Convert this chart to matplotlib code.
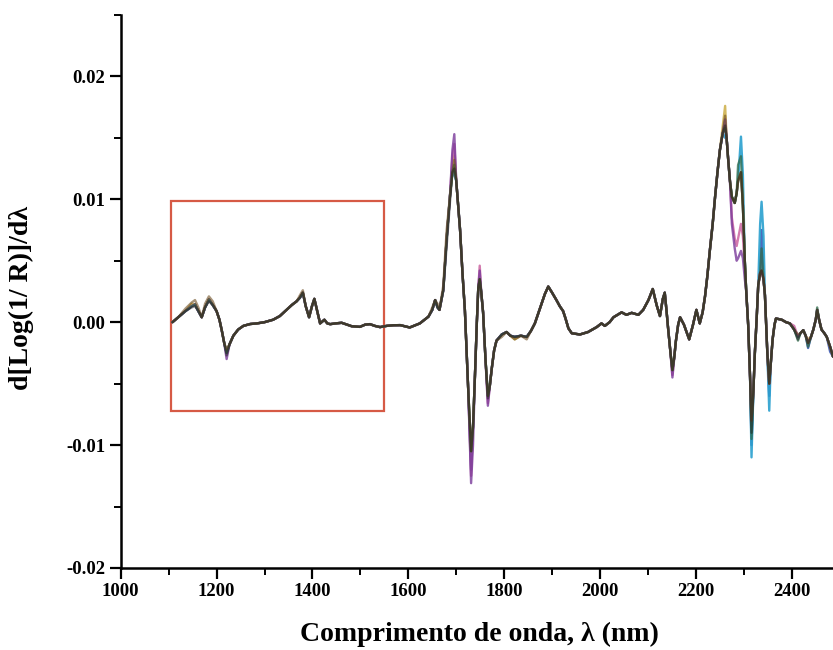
import matplotlib
matplotlib.use("Agg")
import matplotlib.pyplot as plt
from matplotlib.patches import Rectangle
from matplotlib.ticker import MultipleLocator, FixedLocator, FixedFormatter

# ---- data ----
wavelength = [
    1108, 1120, 1135, 1148, 1155, 1162, 1169, 1176, 1184, 1192, 1200, 1206, 1211, 1216, 1221, 1227,
    1235, 1245, 1256, 1270, 1284, 1300, 1318, 1332, 1346, 1357, 1367, 1374, 1380, 1386, 1393, 1399,
    1404, 1410, 1416, 1425, 1431, 1437, 1448, 1461, 1472, 1482, 1499, 1510, 1520, 1530, 1541, 1555,
    1569, 1583, 1603, 1624, 1642, 1650, 1656, 1661, 1665, 1673, 1680, 1687, 1692, 1696, 1700, 1708,
    1713, 1718, 1725, 1731, 1735, 1739, 1743, 1746, 1749, 1752, 1756, 1761, 1766, 1770, 1774, 1779,
    1784, 1795, 1805, 1813, 1822, 1835, 1847, 1856, 1864, 1871, 1878, 1885, 1892, 1900, 1909, 1916,
    1923, 1928, 1934, 1941, 1958, 1975, 1993, 2003, 2010, 2020, 2028, 2045, 2055, 2066, 2080, 2090,
    2101, 2110, 2118, 2125, 2131, 2135, 2139, 2142, 2147, 2151, 2155, 2158, 2163, 2167, 2175, 2186,
    2194, 2201, 2208, 2214, 2219, 2224, 2229, 2235, 2240, 2245, 2250, 2256, 2261, 2264, 2267, 2271,
    2275, 2281, 2285, 2288, 2294, 2298, 2302, 2305, 2309, 2313, 2316, 2320, 2323, 2327, 2330, 2334,
    2337, 2341, 2344, 2349, 2353, 2356, 2360, 2364, 2367, 2379, 2388, 2396, 2405, 2413, 2418, 2424,
    2429, 2434, 2440, 2445, 2450, 2453, 2457, 2462, 2468, 2473, 2480, 2486,
]

base = [
    0.0, 0.0004, 0.0009, 0.0013, 0.00145, 0.0009, 0.0004, 0.0012, 0.00185, 0.0014, 0.0009, 0.0002, -0.0007, -0.0017, -0.0025, -0.0018,
    -0.0011, -0.0006, -0.0003, -0.00015, -0.0001, 0.0, 0.0002, 0.0005, 0.001, 0.0014, 0.0017, 0.0020, 0.0024, 0.0013, 0.0004, 0.0013,
    0.0019, 0.0009, -0.0001, 0.0002, -0.0001, -0.00016, -0.0001, -0.00005, -0.0002, -0.00033, -0.00038, -0.0002, -0.00016, -0.0003, -0.0004, -0.0003,
    -0.00025, -0.00024, -0.00043, -0.0001, 0.00045, 0.0010, 0.0018, 0.0012, 0.0010, 0.0026, 0.0068, 0.0103, 0.0122, 0.0128, 0.0115, 0.0075,
    0.0040, 0.0010, -0.0055, -0.0105, -0.0085, -0.0044, 0.0000, 0.0028, 0.0035, 0.0025, 0.0008, -0.0030, -0.0060, -0.0052, -0.0038, -0.0023,
    -0.0015, -0.0010, -0.0008, -0.0011, -0.0012, -0.0011, -0.0012, -0.0007, -0.0001, 0.0007, 0.0015, 0.0023, 0.0029, 0.0024, 0.0018, 0.0013,
    0.0009, 0.0003, -0.0005, -0.0009, -0.0010, -0.0008, -0.0004, -0.0001, -0.0003, 0.0000, 0.0004, 0.0008, 0.0006, 0.00076, 0.0006, 0.0010,
    0.0018, 0.0027, 0.0014, 0.0005, 0.0019, 0.0024, 0.0008, -0.0005, -0.0025, -0.0039, -0.0028, -0.0016, -0.0002, 0.0004, -0.0002, -0.0014,
    -0.0002, 0.0010, -0.0001, 0.0008, 0.0021, 0.0038, 0.0058, 0.0080, 0.0102, 0.0122, 0.0140, 0.0154, 0.0158, 0.0150, 0.0134, 0.0115,
    0.0102, 0.0097, 0.0105, 0.0115, 0.0122, 0.0095, 0.0050, 0.0025, -0.0002, -0.0045, -0.0080, -0.0055, -0.0025, 0.0005, 0.0030, 0.0040,
    0.0042, 0.0035, 0.0022, -0.0025, -0.0050, -0.0035, -0.0014, -0.0002, 0.0003, 0.0002, 0.0000, -0.0001, -0.0006, -0.0012, -0.0009, -0.00065,
    -0.0011, -0.0017, -0.0012, -0.0006, 0.0002, 0.0010, 0.0002, -0.0006, -0.0009, -0.0012, -0.0020, -0.0028,
]

# values where individual spectra depart from the common trace (wavelength: value)
series_names = ["blue", "cyan", "yellow", "pink", "purple", "green", "olive", "black"]
series_colors = ["#3050b0", "#2aa0cf", "#c8a83a", "#c85a9a", "#7a3a9a", "#2f6a4a", "#6e4e22", "#1e1e1e"]
series_alpha = [0.85, 0.9, 0.8, 0.8, 0.8, 0.75, 0.6, 0.5]
series_departures = [
    {1731: -0.0120, 2316: -0.0100, 2337: 0.0075, 2353: -0.0060, 2434: -0.0021, 2480: -0.0024},
    {1696: 0.0120, 1731: -0.0110, 2261: 0.0150, 2294: 0.0151, 2298: 0.0120, 2316: -0.0110,
     2334: 0.0080, 2337: 0.0098, 2341: 0.0070, 2353: -0.0072},
    {1148: 0.0015, 1696: 0.0135, 1749: 0.0030, 2256: 0.0160, 2261: 0.0176, 2434: -0.0014, 1822: -0.0014},
    {1692: 0.0135, 1696: 0.0145, 1731: -0.0125, 1749: 0.0046, 1766: -0.0066, 2151: -0.0043,
     2275: 0.0085, 2281: 0.0068, 2285: 0.0062, 2288: 0.0068, 2294: 0.0080, 2298: 0.0070, 2302: 0.0045, 2405: -0.0003},
    {1221: -0.0030, 1692: 0.0140, 1696: 0.0153, 1731: -0.0131, 1735: -0.0100, 1749: 0.0042, 1766: -0.0068, 2151: -0.0045,
     2261: 0.0165, 2275: 0.0080, 2281: 0.0060, 2285: 0.0050, 2288: 0.0052, 2294: 0.0058, 2298: 0.0052, 2302: 0.0035},
    {2288: 0.0128, 2294: 0.0135, 2316: -0.0095, 2337: 0.0060, 2413: -0.0015, 2434: -0.0020, 2453: 0.0012},
    {1135: 0.0011, 1148: 0.0016, 1155: 0.0018, 1162: 0.0012, 1176: 0.0015, 1184: 0.0021, 1192: 0.0017, 1221: -0.0022,
     1374: 0.0022, 1380: 0.0026, 1650: 0.0012, 1661: 0.0015, 1673: 0.0030, 1680: 0.0075, 1696: 0.0132,
     1795: -0.0012, 1822: -0.0014, 1847: -0.0014, 2261: 0.0168, 2413: -0.0010},
    {1148: 0.0012, 1155: 0.0013, 1184: 0.0017, 1221: -0.0027, 1680: 0.0062, 1687: 0.0098, 1696: 0.0125,
     1766: -0.0062, 2261: 0.0160, 2316: -0.0090, 2413: -0.0014},
]

x_ticks = [1000, 1200, 1400, 1600, 1800, 2000, 2200, 2400]
y_ticks = [-0.02, -0.01, 0.00, 0.01, 0.02]
y_tick_labels = ["-0.02", "-0.01", "0.00", "0.01", "0.02"]
box_lambda = [1105, 1550]
box_value = [-0.0072, 0.0099]

# ---- figure ----
plt.rcParams["font.family"] = ["Liberation Serif", "DejaVu Serif"]
plt.rcParams["font.weight"] = "bold"

fig = plt.figure(figsize=(8.33, 6.5), dpi=100)
ax = fig.add_axes([0.1449, 0.1262, 0.8551, 0.8508])

for name, color, a, dep in zip(series_names, series_colors, series_alpha, series_departures):
    values = [dep.get(w, v) for w, v in zip(wavelength, base)]
    ax.plot(wavelength, values, color=color, lw=1.7, alpha=a,
            solid_joinstyle="round", solid_capstyle="round", label=name)

ax.add_patch(Rectangle((box_lambda[0], box_value[0]), box_lambda[1] - box_lambda[0],
                       box_value[1] - box_value[0], fill=False, edgecolor="#d65a45", lw=1.6))

ax.set_xlim(1000, 2486)
ax.set_ylim(-0.02, 0.025)

ax.spines["top"].set_visible(False)
ax.spines["right"].set_visible(False)
ax.spines["left"].set_linewidth(1.8)
ax.spines["bottom"].set_linewidth(1.8)

ax.xaxis.set_major_locator(FixedLocator(x_ticks))
ax.xaxis.set_minor_locator(MultipleLocator(100))
ax.yaxis.set_major_locator(FixedLocator(y_ticks))
ax.yaxis.set_major_formatter(FixedFormatter(y_tick_labels))
ax.yaxis.set_minor_locator(MultipleLocator(0.005))

ax.tick_params(which="major", direction="out", length=8, width=1.6, labelsize=13.5, pad=3)
ax.tick_params(which="minor", direction="out", length=5, width=1.4)
for lab in ax.get_xticklabels() + ax.get_yticklabels():
    lab.set_fontweight("bold")

ax.set_xlabel("Comprimento de onda, λ (nm)", fontsize=20, fontweight="bold")
ax.set_ylabel("d[Log(1/ R)]/dλ", fontsize=20, fontweight="bold")
ax.xaxis.set_label_coords(0.504, -0.121)
ax.yaxis.set_label_coords(-0.139, 0.488)
ax.xaxis.label.set_verticalalignment("center")
ax.yaxis.label.set_verticalalignment("center")

fig.savefig("out.png", dpi=100)
